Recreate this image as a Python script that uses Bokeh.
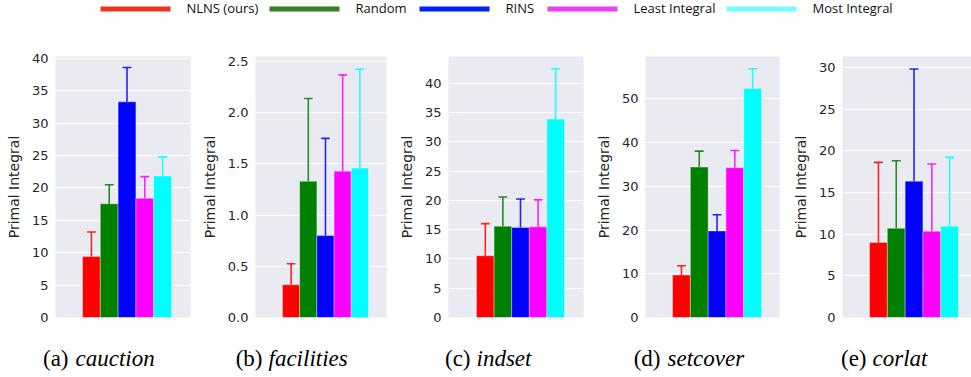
from bokeh.plotting import figure
from bokeh.layouts import row, column
from bokeh.models import (FixedTicker, NumeralTickFormatter, Range1d, ColumnDataSource)
from bokeh.core.properties import value
from bokeh.embed import file_html
from bokeh.resources import INLINE

# ---------------- data ----------------
methods = ["NLNS (ours)", "Random", "RINS", "Least Integral", "Most Integral"]
bar_colors = ["#FF0000", "#008000", "#0000FF", "#FF00FF", "#00FFFF"]
legend_colors = ["#EA3323", "#377E22", "#0023F5", "#EA3FF7", "#75FBFD"]

letters = ["(a)", "(b)", "(c)", "(d)", "(e)"]
datasets = ["cauction", "facilities", "indset", "setcover", "corlat"]

cauction_mean = [9.4, 17.55, 33.3, 18.4, 21.85]
cauction_err = [3.8, 2.95, 5.3, 3.35, 2.95]
facilities_mean = [0.32, 1.33, 0.80, 1.43, 1.46]
facilities_err = [0.205, 0.81, 0.95, 0.94, 0.965]
indset_mean = [10.55, 15.6, 15.4, 15.5, 33.9]
indset_err = [5.5, 5.0, 4.85, 4.6, 8.6]
setcover_mean = [9.7, 34.4, 19.8, 34.25, 52.4]
setcover_err = [2.15, 3.65, 3.7, 3.95, 4.5]
corlat_mean = [9.0, 10.7, 16.35, 10.35, 10.95]
corlat_err = [9.6, 8.1, 13.45, 8.05, 8.25]

cauction_ticks = [0, 5, 10, 15, 20, 25, 30, 35, 40]
facilities_ticks = [0.0, 0.5, 1.0, 1.5, 2.0, 2.5]
indset_ticks = [0, 5, 10, 15, 20, 25, 30, 35, 40]
setcover_ticks = [0, 10, 20, 30, 40, 50]
corlat_ticks = [0, 5, 10, 15, 20, 25, 30]

TEXT = "#262626"
BG = "#EAEAF2"


def panel(mean, err, ticks, fmt, y_end, width, left, right, top, x_start, x_end):
    p = figure(width=width, height=290, output_backend="svg", toolbar_location=None,
               x_range=Range1d(x_start, x_end), y_range=Range1d(0, y_end),
               min_border_left=left, min_border_right=right,
               min_border_top=top, min_border_bottom=8)
    xs = list(range(len(mean)))
    upper = [m + e for m, e in zip(mean, err)]
    src = ColumnDataSource(dict(x=xs, top=mean, upper=upper, color=bar_colors,
                                cx0=[x - 0.25 for x in xs], cx1=[x + 0.25 for x in xs]))
    p.vbar(x="x", top="top", bottom=0, width=1.0, fill_color="color",
           line_color="white", line_alpha=0.35, line_width=1, source=src)
    p.segment(x0="x", y0="top", x1="x", y1="upper", line_color="color",
              line_width=1.6, line_alpha=0.85, source=src)
    p.segment(x0="cx0", y0="upper", x1="cx1", y1="upper", line_color="color",
              line_width=1.6, line_alpha=0.85, source=src)

    p.background_fill_color = BG
    p.border_fill_color = "white"
    p.outline_line_color = None
    p.xaxis.visible = False
    p.xgrid.visible = False
    p.ygrid.grid_line_color = "white"
    p.ygrid.grid_line_width = 1.2

    ax = p.yaxis[0]
    ax.ticker = FixedTicker(ticks=ticks)
    ax.formatter = NumeralTickFormatter(format=fmt)
    ax.axis_label = "Primal Integral"
    ax.axis_label_text_font = "DejaVu Sans"
    ax.axis_label_text_font_size = "14px"
    ax.axis_label_text_font_style = "normal"
    ax.axis_label_text_color = TEXT
    ax.axis_label_standoff = 7
    ax.major_label_text_font = "DejaVu Sans"
    ax.major_label_text_font_size = "13px"
    ax.major_label_text_color = TEXT
    ax.major_label_standoff = 7
    ax.axis_line_color = None
    ax.major_tick_line_color = None
    ax.minor_tick_line_color = None
    ax.major_tick_out = 0
    ax.major_tick_in = 0
    return p


pa = panel(cauction_mean, cauction_err, cauction_ticks, "0", 40.3,
           195, 55, 5, 14, -2.02, 5.57)
pb = panel(facilities_mean, facilities_err, facilities_ticks, "0.0", 2.55,
           195, 60, 4, 21, -2.07, 5.55)
pc = panel(indset_mean, indset_err, indset_ticks, "0", 44.6,
           195, 58, 2, 15, -2.09, 5.58)
pd_ = panel(setcover_mean, setcover_err, setcover_ticks, "0", 59.7,
            195, 60, 1, 15, -2.02, 5.51)
pe = panel(corlat_mean, corlat_err, corlat_ticks, "0", 31.3,
           191, 62, 0, 15, -2.02, 5.23)

# ---------------- legend strip (drawn by hand) ----------------
lg = figure(width=971, height=35, output_backend="svg", toolbar_location=None,
            x_range=Range1d(0, 971), y_range=Range1d(0, 35), min_border=0,
            x_axis_location=None, y_axis_location=None)
lg.grid.visible = False
lg.outline_line_color = None
lg.background_fill_color = "white"
swatch_left = [100, 269, 419, 547, 726]
label_left = [186, 355, 505, 633, 812]
lg.rect(x=[s + 35 for s in swatch_left], y=[26.5] * 5, width=70, height=5,
        fill_color=legend_colors, line_color=None)
lg.text(x=label_left, y=[27.5] * 5, text=methods, text_align="left",
        text_baseline="middle", text_font=value("Open Sans"),
        text_font_size="13px", text_color="#111111")

# ---------------- captions ----------------
cap = figure(width=971, height=52, output_backend="svg", toolbar_location=None,
             x_range=Range1d(0, 971), y_range=Range1d(0, 52), min_border=0,
             x_axis_location=None, y_axis_location=None)
cap.grid.visible = False
cap.outline_line_color = None
prefix_right = [68, 262, 470, 660, 866]
name_left = [75, 268, 476, 667, 872]
cap.text(x=prefix_right, y=[19] * 5, text=letters, text_align="right",
         text_baseline="alphabetic", text_font=value("Liberation Serif"),
         text_font_size="23px", text_color="black")
cap.text(x=name_left, y=[19] * 5, text=datasets, text_align="left",
         text_baseline="alphabetic", text_font=value("Liberation Serif"),
         text_font_style="italic", text_font_size="23px", text_color="black")

layout = column(lg, row(pa, pb, pc, pd_, pe), cap)
open("out.html", "w").write(file_html(layout, INLINE))
